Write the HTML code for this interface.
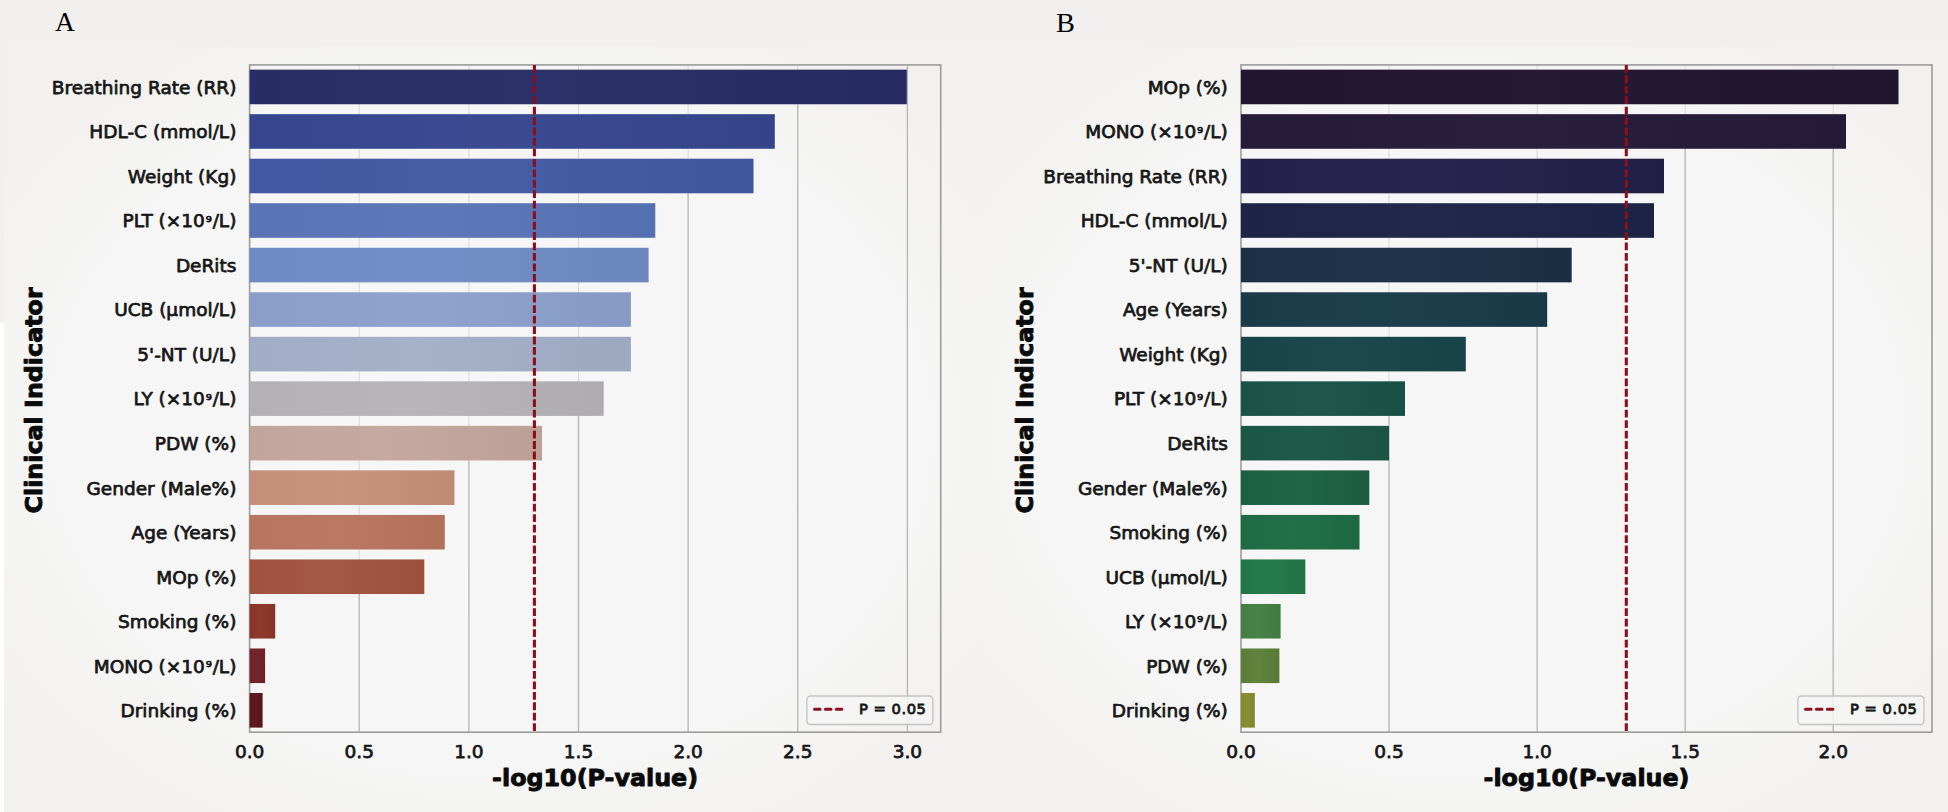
<!DOCTYPE html>
<html lang="en">
<head>
<meta charset="utf-8">
<title>Clinical indicators: -log10(P-value)</title>
<style>
html,body{margin:0;padding:0;}
body{width:1948px;height:812px;overflow:hidden;background:#f1f0ee;position:relative;font-family:"DejaVu Sans","Liberation Sans",sans-serif;}
#plot{position:absolute;left:4px;top:47px;width:1944px;height:765px;background:#f5f5f4;}
.pan{position:absolute;top:47px;height:765px;background:radial-gradient(ellipse 62% 62% at 50% 50%, rgba(246,246,246,1) 0%, rgba(246,246,246,0.9) 70%, rgba(242,241,239,1) 100%);}
#strip{position:absolute;left:0;top:323px;width:4px;height:489px;background:#ffffff;}
.pl{position:absolute;top:8px;font-family:"Liberation Serif","DejaVu Serif",serif;font-size:27.5px;line-height:28px;color:#000;}
svg{position:absolute;left:0;top:0;}
svg text{font-family:"DejaVu Sans","Liberation Sans",sans-serif;fill:#161616;}
.tk{font-size:18.5px;stroke:#161616;stroke-width:0.75px;stroke-linejoin:round;}
.sp{font-size:15.4px;}
.lg{font-size:14.7px;letter-spacing:0.55px;stroke:#161616;stroke-width:0.8px;}
.ax{font-size:23.8px;font-weight:bold;fill:#0a0a0a;stroke:#0a0a0a;stroke-width:0.9px;stroke-linejoin:round;}
</style>
</head>
<body>
<div id="plot"></div>
<div class="pan" style="left:4px;width:972px"></div>
<div class="pan" style="left:976px;width:972px"></div>
<div id="strip"></div>
<div class="pl" style="left:55px">A</div>
<div class="pl" style="left:1056px;font-size:28.3px;top:8.5px">B</div>
<svg width="1948" height="812" viewBox="0 0 1948 812">
<g id="chartA">
<defs>
<linearGradient id="ag0" x1="0" x2="1" y1="0" y2="0"><stop offset="0" stop-color="#272d65"/><stop offset="0.45" stop-color="#2b3169"/><stop offset="1" stop-color="#252b62"/></linearGradient>
<linearGradient id="ag1" x1="0" x2="1" y1="0" y2="0"><stop offset="0" stop-color="#35468e"/><stop offset="0.45" stop-color="#3b4b92"/><stop offset="1" stop-color="#344489"/></linearGradient>
<linearGradient id="ag2" x1="0" x2="1" y1="0" y2="0"><stop offset="0" stop-color="#4158a2"/><stop offset="0.45" stop-color="#475da6"/><stop offset="1" stop-color="#3f559d"/></linearGradient>
<linearGradient id="ag3" x1="0" x2="1" y1="0" y2="0"><stop offset="0" stop-color="#5874b6"/><stop offset="0.45" stop-color="#5e79ba"/><stop offset="1" stop-color="#5570b1"/></linearGradient>
<linearGradient id="ag4" x1="0" x2="1" y1="0" y2="0"><stop offset="0" stop-color="#6e8ac3"/><stop offset="0.45" stop-color="#748fc7"/><stop offset="1" stop-color="#6b85bd"/></linearGradient>
<linearGradient id="ag5" x1="0" x2="1" y1="0" y2="0"><stop offset="0" stop-color="#8a9eca"/><stop offset="0.45" stop-color="#8fa3ce"/><stop offset="1" stop-color="#859ac4"/></linearGradient>
<linearGradient id="ag6" x1="0" x2="1" y1="0" y2="0"><stop offset="0" stop-color="#a1acc6"/><stop offset="0.45" stop-color="#a6b1ca"/><stop offset="1" stop-color="#9ca7c0"/></linearGradient>
<linearGradient id="ag7" x1="0" x2="1" y1="0" y2="0"><stop offset="0" stop-color="#b3b1b6"/><stop offset="0.45" stop-color="#b8b6bb"/><stop offset="1" stop-color="#aeacb1"/></linearGradient>
<linearGradient id="ag8" x1="0" x2="1" y1="0" y2="0"><stop offset="0" stop-color="#c2a59a"/><stop offset="0.45" stop-color="#c6aaa0"/><stop offset="1" stop-color="#bca096"/></linearGradient>
<linearGradient id="ag9" x1="0" x2="1" y1="0" y2="0"><stop offset="0" stop-color="#c48f78"/><stop offset="0.45" stop-color="#c8947e"/><stop offset="1" stop-color="#be8a74"/></linearGradient>
<linearGradient id="ag10" x1="0" x2="1" y1="0" y2="0"><stop offset="0" stop-color="#b7745e"/><stop offset="0.45" stop-color="#bb7964"/><stop offset="1" stop-color="#b2705b"/></linearGradient>
<linearGradient id="ag11" x1="0" x2="1" y1="0" y2="0"><stop offset="0" stop-color="#a1523e"/><stop offset="0.45" stop-color="#a55844"/><stop offset="1" stop-color="#9c503c"/></linearGradient>
<linearGradient id="ag12" x1="0" x2="1" y1="0" y2="0"><stop offset="0" stop-color="#893427"/><stop offset="0.45" stop-color="#8d3a2c"/><stop offset="1" stop-color="#843325"/></linearGradient>
<linearGradient id="ag13" x1="0" x2="1" y1="0" y2="0"><stop offset="0" stop-color="#712128"/><stop offset="0.45" stop-color="#75252c"/><stop offset="1" stop-color="#6d2026"/></linearGradient>
<linearGradient id="ag14" x1="0" x2="1" y1="0" y2="0"><stop offset="0" stop-color="#5b151c"/><stop offset="0.45" stop-color="#5f1920"/><stop offset="1" stop-color="#58141b"/></linearGradient>
</defs>
<line x1="359.2" x2="359.2" y1="64.9" y2="594.0" stroke="#d9d9d9" stroke-width="1"/>
<line x1="359.2" x2="359.2" y1="594.0" y2="732.2" stroke="#b4b4b4" stroke-width="1.3"/>
<line x1="468.9" x2="468.9" y1="64.9" y2="460.4" stroke="#d9d9d9" stroke-width="1"/>
<line x1="468.9" x2="468.9" y1="460.4" y2="732.2" stroke="#b4b4b4" stroke-width="1.3"/>
<line x1="578.5" x2="578.5" y1="64.9" y2="415.9" stroke="#d9d9d9" stroke-width="1"/>
<line x1="578.5" x2="578.5" y1="415.9" y2="732.2" stroke="#b4b4b4" stroke-width="1.3"/>
<line x1="688.1" x2="688.1" y1="64.9" y2="193.3" stroke="#d9d9d9" stroke-width="1"/>
<line x1="688.1" x2="688.1" y1="193.3" y2="732.2" stroke="#b4b4b4" stroke-width="1.3"/>
<line x1="797.7" x2="797.7" y1="64.9" y2="104.2" stroke="#d9d9d9" stroke-width="1"/>
<line x1="797.7" x2="797.7" y1="104.2" y2="732.2" stroke="#b4b4b4" stroke-width="1.3"/>
<line x1="907.4" x2="907.4" y1="64.9" y2="64.9" stroke="#d9d9d9" stroke-width="1"/>
<line x1="907.4" x2="907.4" y1="64.9" y2="732.2" stroke="#b4b4b4" stroke-width="1.3"/>
<rect x="249.6" y="64.9" width="691.1" height="667.3" fill="none" stroke="#9c9c9a" stroke-width="1.6"/>
<rect x="249.6" y="69.65" width="657.2" height="34.6" fill="url(#ag0)"/>
<rect x="249.6" y="114.17" width="525.2" height="34.6" fill="url(#ag1)"/>
<rect x="249.6" y="158.70" width="503.9" height="34.6" fill="url(#ag2)"/>
<rect x="249.6" y="203.22" width="405.7" height="34.6" fill="url(#ag3)"/>
<rect x="249.6" y="247.75" width="399.0" height="34.6" fill="url(#ag4)"/>
<rect x="249.6" y="292.27" width="381.3" height="34.6" fill="url(#ag5)"/>
<rect x="249.6" y="336.80" width="381.3" height="34.6" fill="url(#ag6)"/>
<rect x="249.6" y="381.32" width="354.1" height="34.6" fill="url(#ag7)"/>
<rect x="249.6" y="425.85" width="292.4" height="34.6" fill="url(#ag8)"/>
<rect x="249.6" y="470.37" width="204.9" height="34.6" fill="url(#ag9)"/>
<rect x="249.6" y="514.90" width="195.2" height="34.6" fill="url(#ag10)"/>
<rect x="249.6" y="559.43" width="174.7" height="34.6" fill="url(#ag11)"/>
<rect x="249.6" y="603.95" width="25.6" height="34.6" fill="url(#ag12)"/>
<rect x="249.6" y="648.48" width="15.5" height="34.6" fill="url(#ag13)"/>
<rect x="249.6" y="693.00" width="13.0" height="34.6" fill="url(#ag14)"/>
<line x1="534.4" x2="534.4" y1="64.9" y2="732.2" stroke="#8a0f1d" stroke-width="3.1" stroke-dasharray="7.8 2.65"/>
<rect x="806.9" y="696" width="126.0" height="28.5" rx="3.5" fill="#f5f5f5" fill-opacity="0.85" stroke="#c2c2c2" stroke-width="1.3"/>
<line x1="814.5" x2="841.9" y1="709.3" y2="709.3" stroke="#8f0f1d" stroke-width="3" stroke-linecap="round" stroke-dasharray="5.6 5.3"/>
<text class="lg" x="858.9" y="714.0">P = 0.05</text>
<text class="tk" text-anchor="end" x="236.4" y="93.8">Breathing Rate (RR)</text>
<text class="tk" text-anchor="end" x="236.4" y="138.3">HDL-C (mmol/L)</text>
<text class="tk" text-anchor="end" x="236.4" y="182.8">Weight (Kg)</text>
<text class="tk" text-anchor="end" x="236.4" y="227.3">PLT (×10<tspan class="sp" dx="0.8" dy="-0.8">⁹</tspan><tspan dx="0.8" dy="0.8">/L)</tspan></text>
<text class="tk" text-anchor="end" x="236.4" y="271.9">DeRits</text>
<text class="tk" text-anchor="end" x="236.4" y="316.4">UCB (μmol/L)</text>
<text class="tk" text-anchor="end" x="236.4" y="360.9">5'-NT (U/L)</text>
<text class="tk" text-anchor="end" x="236.4" y="405.4">LY (×10<tspan class="sp" dx="0.8" dy="-0.8">⁹</tspan><tspan dx="0.8" dy="0.8">/L)</tspan></text>
<text class="tk" text-anchor="end" x="236.4" y="449.9">PDW (%)</text>
<text class="tk" text-anchor="end" x="236.4" y="494.5">Gender (Male%)</text>
<text class="tk" text-anchor="end" x="236.4" y="539.0">Age (Years)</text>
<text class="tk" text-anchor="end" x="236.4" y="583.5">MOp (%)</text>
<text class="tk" text-anchor="end" x="236.4" y="628.0">Smoking (%)</text>
<text class="tk" text-anchor="end" x="236.4" y="672.6">MONO (×10<tspan class="sp" dx="0.8" dy="-0.8">⁹</tspan><tspan dx="0.8" dy="0.8">/L)</tspan></text>
<text class="tk" text-anchor="end" x="236.4" y="717.1">Drinking (%)</text>
<text class="tk" text-anchor="middle" x="249.6" y="758.4">0.0</text>
<text class="tk" text-anchor="middle" x="359.2" y="758.4">0.5</text>
<text class="tk" text-anchor="middle" x="468.9" y="758.4">1.0</text>
<text class="tk" text-anchor="middle" x="578.5" y="758.4">1.5</text>
<text class="tk" text-anchor="middle" x="688.1" y="758.4">2.0</text>
<text class="tk" text-anchor="middle" x="797.7" y="758.4">2.5</text>
<text class="tk" text-anchor="middle" x="907.4" y="758.4">3.0</text>
<text class="ax" text-anchor="middle" x="595.1" y="786.3">-log10(P-value)</text>
<text class="ax" text-anchor="middle" transform="translate(41.6,400.4) rotate(-90)">Clinical Indicator</text>
</g>
<g id="chartB">
<defs>
<linearGradient id="bg0" x1="0" x2="1" y1="0" y2="0"><stop offset="0" stop-color="#221530"/><stop offset="0.45" stop-color="#261933"/><stop offset="1" stop-color="#21142e"/></linearGradient>
<linearGradient id="bg1" x1="0" x2="1" y1="0" y2="0"><stop offset="0" stop-color="#251b38"/><stop offset="0.45" stop-color="#291f3c"/><stop offset="1" stop-color="#241a37"/></linearGradient>
<linearGradient id="bg2" x1="0" x2="1" y1="0" y2="0"><stop offset="0" stop-color="#232049"/><stop offset="0.45" stop-color="#27244d"/><stop offset="1" stop-color="#221f47"/></linearGradient>
<linearGradient id="bg3" x1="0" x2="1" y1="0" y2="0"><stop offset="0" stop-color="#1e2447"/><stop offset="0.45" stop-color="#22284b"/><stop offset="1" stop-color="#1d2345"/></linearGradient>
<linearGradient id="bg4" x1="0" x2="1" y1="0" y2="0"><stop offset="0" stop-color="#1b3046"/><stop offset="0.45" stop-color="#1f344a"/><stop offset="1" stop-color="#1a2e44"/></linearGradient>
<linearGradient id="bg5" x1="0" x2="1" y1="0" y2="0"><stop offset="0" stop-color="#1a3a48"/><stop offset="0.45" stop-color="#1e3f4c"/><stop offset="1" stop-color="#193946"/></linearGradient>
<linearGradient id="bg6" x1="0" x2="1" y1="0" y2="0"><stop offset="0" stop-color="#184449"/><stop offset="0.45" stop-color="#1d494e"/><stop offset="1" stop-color="#174247"/></linearGradient>
<linearGradient id="bg7" x1="0" x2="1" y1="0" y2="0"><stop offset="0" stop-color="#1a5247"/><stop offset="0.45" stop-color="#1f574c"/><stop offset="1" stop-color="#195045"/></linearGradient>
<linearGradient id="bg8" x1="0" x2="1" y1="0" y2="0"><stop offset="0" stop-color="#1b5543"/><stop offset="0.45" stop-color="#205a48"/><stop offset="1" stop-color="#1a5341"/></linearGradient>
<linearGradient id="bg9" x1="0" x2="1" y1="0" y2="0"><stop offset="0" stop-color="#1d5f42"/><stop offset="0.45" stop-color="#226447"/><stop offset="1" stop-color="#1c5c40"/></linearGradient>
<linearGradient id="bg10" x1="0" x2="1" y1="0" y2="0"><stop offset="0" stop-color="#1e6b43"/><stop offset="0.45" stop-color="#236f48"/><stop offset="1" stop-color="#1d6841"/></linearGradient>
<linearGradient id="bg11" x1="0" x2="1" y1="0" y2="0"><stop offset="0" stop-color="#207745"/><stop offset="0.45" stop-color="#257b4b"/><stop offset="1" stop-color="#1f7343"/></linearGradient>
<linearGradient id="bg12" x1="0" x2="1" y1="0" y2="0"><stop offset="0" stop-color="#427e42"/><stop offset="0.45" stop-color="#488248"/><stop offset="1" stop-color="#407a40"/></linearGradient>
<linearGradient id="bg13" x1="0" x2="1" y1="0" y2="0"><stop offset="0" stop-color="#5b7e37"/><stop offset="0.45" stop-color="#60833d"/><stop offset="1" stop-color="#587a36"/></linearGradient>
<linearGradient id="bg14" x1="0" x2="1" y1="0" y2="0"><stop offset="0" stop-color="#84892d"/><stop offset="0.45" stop-color="#898d33"/><stop offset="1" stop-color="#80842b"/></linearGradient>
</defs>
<line x1="1389.0" x2="1389.0" y1="64.9" y2="415.9" stroke="#d9d9d9" stroke-width="1"/>
<line x1="1389.0" x2="1389.0" y1="415.9" y2="732.2" stroke="#b4b4b4" stroke-width="1.3"/>
<line x1="1537.1" x2="1537.1" y1="64.9" y2="326.9" stroke="#d9d9d9" stroke-width="1"/>
<line x1="1537.1" x2="1537.1" y1="326.9" y2="732.2" stroke="#b4b4b4" stroke-width="1.3"/>
<line x1="1685.2" x2="1685.2" y1="64.9" y2="148.8" stroke="#d9d9d9" stroke-width="1"/>
<line x1="1685.2" x2="1685.2" y1="148.8" y2="732.2" stroke="#b4b4b4" stroke-width="1.3"/>
<line x1="1833.2" x2="1833.2" y1="64.9" y2="148.8" stroke="#d9d9d9" stroke-width="1"/>
<line x1="1833.2" x2="1833.2" y1="148.8" y2="732.2" stroke="#b4b4b4" stroke-width="1.3"/>
<rect x="1241.0" y="64.9" width="691.0" height="667.3" fill="none" stroke="#9c9c9a" stroke-width="1.6"/>
<rect x="1241.0" y="69.65" width="657.5" height="34.6" fill="url(#bg0)"/>
<rect x="1241.0" y="114.17" width="605.0" height="34.6" fill="url(#bg1)"/>
<rect x="1241.0" y="158.70" width="423.0" height="34.6" fill="url(#bg2)"/>
<rect x="1241.0" y="203.22" width="413.0" height="34.6" fill="url(#bg3)"/>
<rect x="1241.0" y="247.75" width="330.7" height="34.6" fill="url(#bg4)"/>
<rect x="1241.0" y="292.27" width="306.2" height="34.6" fill="url(#bg5)"/>
<rect x="1241.0" y="336.80" width="224.8" height="34.6" fill="url(#bg6)"/>
<rect x="1241.0" y="381.32" width="164.0" height="34.6" fill="url(#bg7)"/>
<rect x="1241.0" y="425.85" width="148.0" height="34.6" fill="url(#bg8)"/>
<rect x="1241.0" y="470.37" width="128.3" height="34.6" fill="url(#bg9)"/>
<rect x="1241.0" y="514.90" width="118.5" height="34.6" fill="url(#bg10)"/>
<rect x="1241.0" y="559.43" width="64.3" height="34.6" fill="url(#bg11)"/>
<rect x="1241.0" y="603.95" width="39.6" height="34.6" fill="url(#bg12)"/>
<rect x="1241.0" y="648.48" width="38.4" height="34.6" fill="url(#bg13)"/>
<rect x="1241.0" y="693.00" width="13.8" height="34.6" fill="url(#bg14)"/>
<line x1="1626.3" x2="1626.3" y1="64.9" y2="732.2" stroke="#8a0f1d" stroke-width="3.1" stroke-dasharray="7.8 2.65"/>
<rect x="1797.9" y="696" width="126.0" height="28.5" rx="3.5" fill="#f5f5f5" fill-opacity="0.85" stroke="#c2c2c2" stroke-width="1.3"/>
<line x1="1805.5" x2="1832.9" y1="709.3" y2="709.3" stroke="#8f0f1d" stroke-width="3" stroke-linecap="round" stroke-dasharray="5.6 5.3"/>
<text class="lg" x="1849.9" y="714.0">P = 0.05</text>
<text class="tk" text-anchor="end" x="1227.8" y="93.8">MOp (%)</text>
<text class="tk" text-anchor="end" x="1227.8" y="138.3">MONO (×10<tspan class="sp" dx="0.8" dy="-0.8">⁹</tspan><tspan dx="0.8" dy="0.8">/L)</tspan></text>
<text class="tk" text-anchor="end" x="1227.8" y="182.8">Breathing Rate (RR)</text>
<text class="tk" text-anchor="end" x="1227.8" y="227.3">HDL-C (mmol/L)</text>
<text class="tk" text-anchor="end" x="1227.8" y="271.9">5'-NT (U/L)</text>
<text class="tk" text-anchor="end" x="1227.8" y="316.4">Age (Years)</text>
<text class="tk" text-anchor="end" x="1227.8" y="360.9">Weight (Kg)</text>
<text class="tk" text-anchor="end" x="1227.8" y="405.4">PLT (×10<tspan class="sp" dx="0.8" dy="-0.8">⁹</tspan><tspan dx="0.8" dy="0.8">/L)</tspan></text>
<text class="tk" text-anchor="end" x="1227.8" y="449.9">DeRits</text>
<text class="tk" text-anchor="end" x="1227.8" y="494.5">Gender (Male%)</text>
<text class="tk" text-anchor="end" x="1227.8" y="539.0">Smoking (%)</text>
<text class="tk" text-anchor="end" x="1227.8" y="583.5">UCB (μmol/L)</text>
<text class="tk" text-anchor="end" x="1227.8" y="628.0">LY (×10<tspan class="sp" dx="0.8" dy="-0.8">⁹</tspan><tspan dx="0.8" dy="0.8">/L)</tspan></text>
<text class="tk" text-anchor="end" x="1227.8" y="672.6">PDW (%)</text>
<text class="tk" text-anchor="end" x="1227.8" y="717.1">Drinking (%)</text>
<text class="tk" text-anchor="middle" x="1241.0" y="758.4">0.0</text>
<text class="tk" text-anchor="middle" x="1389.0" y="758.4">0.5</text>
<text class="tk" text-anchor="middle" x="1537.1" y="758.4">1.0</text>
<text class="tk" text-anchor="middle" x="1685.2" y="758.4">1.5</text>
<text class="tk" text-anchor="middle" x="1833.2" y="758.4">2.0</text>
<text class="ax" text-anchor="middle" x="1586.5" y="786.3">-log10(P-value)</text>
<text class="ax" text-anchor="middle" transform="translate(1032.8,400.4) rotate(-90)">Clinical Indicator</text>
</g>
</svg>
</body>
</html>
